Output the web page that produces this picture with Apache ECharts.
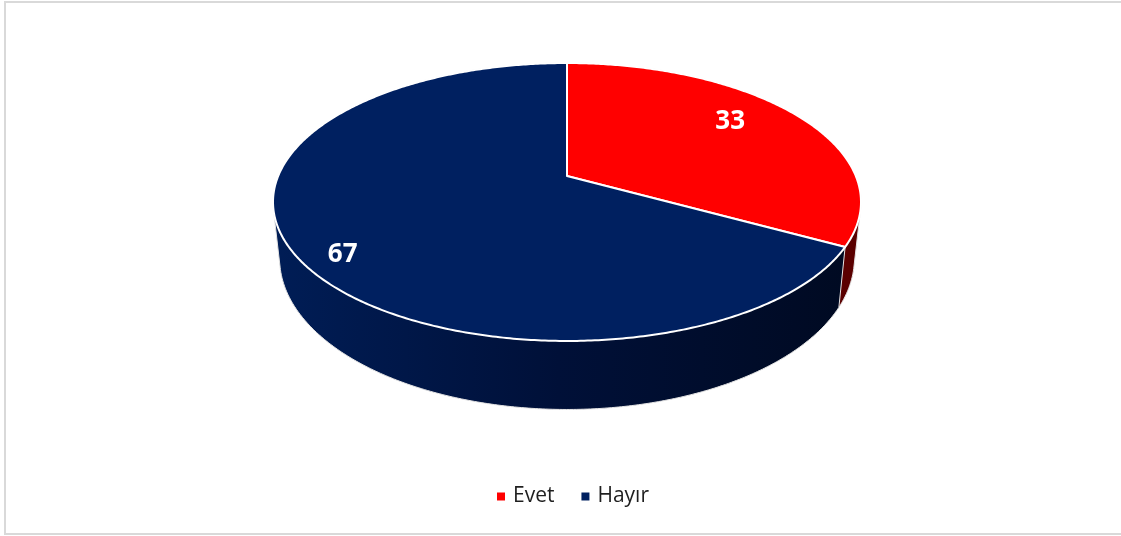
<!DOCTYPE html>
<html>
<head>
<meta charset="utf-8">
<title>Evet / Hayır</title>
<style>
  html, body { margin: 0; padding: 0; background: #fff; }
  #chart { width: 1121px; height: 536px; }
</style>
<script src="https://cdn.jsdelivr.net/npm/echarts@6/dist/echarts.min.js"></script>
</head>
<body>
<div id="chart"></div>
<script>
const categories = ['Evet', 'Hayır'];
const values = [33, 67];
const topColors = ['#ff0000', '#002060'];

const FONT = '"Open Sans", "Noto Sans", sans-serif';
const total = values.reduce((a, b) => a + b, 0);

// side wall colours, the light falls off from left to right
const sideFills = [
  { type: 'linear', x: 0, y: 0, x2: 1, y2: 0, colorStops: [
    { offset: 0, color: '#6a0000' }, { offset: 1, color: '#5a0000' }] },
  { type: 'linear', x: 0, y: 0, x2: 1, y2: 0, colorStops: [
    { offset: 0, color: '#001d56' }, { offset: 0.5, color: '#001038' }, { offset: 1, color: '#000a22' }] }
];

// perspective disc: the rim is an ellipse whose apex sits above the ellipse centre
const topRim = { cx: 567, p: 176, q: -101.2, k: 0.187, a: 288.8 };
const lowRim = { cx: 567, p: 230.2, q: -102.7, k: 0.187, a: 282.3 };

// where the value labels sit on the disc (unit disc coords, x right, y away)
const labelSpots = [[0.611, 0.435], [-0.7, -0.528]];

function project(rim, u, v) {
  const d = 1 + rim.k * v;
  return [rim.cx + rim.a * u / d, (rim.p + rim.q * v) / d];
}

// points along a rim, angle in radians clockwise from 12 o'clock
function rimPoints(rim, from, to) {
  const steps = Math.max(2, Math.ceil((to - from) / 0.01));
  const pts = [];
  for (let i = 0; i <= steps; i++) {
    const t = from + (to - from) * i / steps;
    pts.push(project(rim, Math.sin(t), Math.cos(t)));
  }
  return pts;
}

// the wall is the sweep from one rim to the other, so its outline needs the hull
function convexHull(points) {
  const pts = points.slice().sort((a, b) => a[0] - b[0] || a[1] - b[1]);
  const cross = (o, a, b) => (a[0] - o[0]) * (b[1] - o[1]) - (a[1] - o[1]) * (b[0] - o[0]);
  const half = list => {
    const out = [];
    list.forEach(p => {
      while (out.length > 1 && cross(out[out.length - 2], out[out.length - 1], p) <= 0) out.pop();
      out.push(p);
    });
    out.pop();
    return out;
  };
  return half(pts).concat(half(pts.slice().reverse()));
}

function sliceItem(idx) {
  const before = values.slice(0, idx).reduce((a, b) => a + b, 0);
  const from = before / total * Math.PI * 2;
  const to = (before + values[idx]) / total * Math.PI * 2;
  const upper = rimPoints(topRim, from, to);
  const lower = rimPoints(lowRim, from, to);
  const spot = project(topRim, labelSpots[idx][0], labelSpots[idx][1]);
  return {
    type: 'group',
    children: [
      {
        type: 'polygon',
        z2: 1 + idx,
        shape: { points: convexHull(upper.concat(lower)) },
        style: { fill: sideFills[idx], stroke: '#e4e4e4', lineWidth: 1 }
      },
      {
        type: 'polygon',
        z2: 5,
        shape: { points: [[topRim.cx, topRim.p]].concat(upper) },
        style: { fill: topColors[idx], stroke: '#fff', lineWidth: 2, lineJoin: 'round' }
      },
      {
        type: 'text',
        z2: 6,
        x: spot[0],
        y: spot[1],
        style: {
          text: String(values[idx]),
          fill: '#fff',
          font: 'bold 26px ' + FONT,
          textAlign: 'center',
          textVerticalAlign: 'middle'
        }
      }
    ]
  };
}

const chart = echarts.init(document.getElementById('chart'));
chart.setOption({
  animation: false,
  backgroundColor: '#fff',
  color: topColors,
  tooltip: { show: false },
  legend: {
    data: categories,
    left: 492,
    top: 481,
    icon: 'rect',
    itemWidth: 8,
    itemHeight: 8,
    itemGap: 27,
    selectedMode: false,
    textStyle: { fontFamily: FONT, fontSize: 21, color: '#1f1f1f', padding: [0, 0, 0, 3] }
  },
  graphic: [{
    type: 'rect',
    silent: true,
    shape: { x: 5, y: 2, width: 1130, height: 532 },
    style: { fill: 'transparent', stroke: '#d9d9d9', lineWidth: 2 }
  }],
  series: categories.map((name, i) => ({
    type: 'custom',
    name: name,
    coordinateSystem: 'none',
    silent: true,
    data: [values[i]],
    renderItem: () => sliceItem(i)
  }))
});
</script>
</body>
</html>
